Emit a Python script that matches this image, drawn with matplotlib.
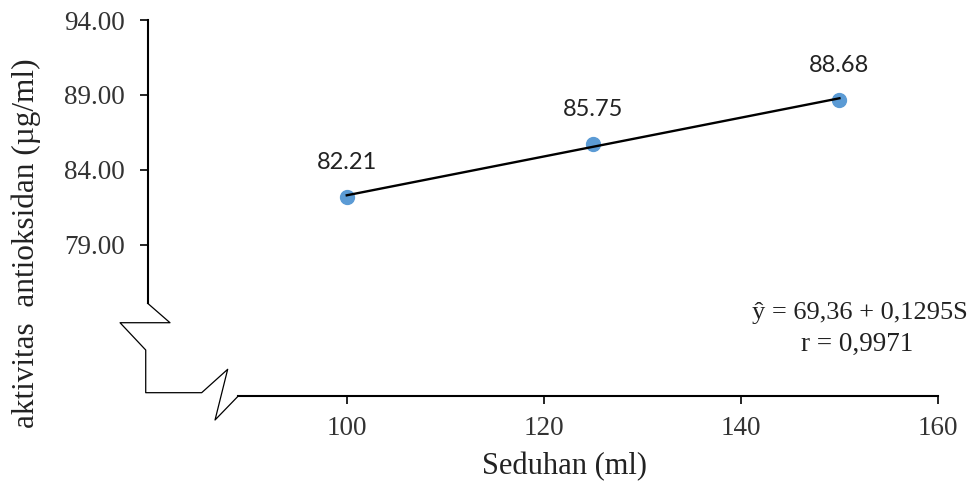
import matplotlib
matplotlib.use("Agg")
from matplotlib import pyplot as plt
from matplotlib.ticker import FormatStrFormatter
import numpy as np

# volume of steeping water (ml) vs antioxidant activity
seduhan = [100, 125, 150]
aktivitas = [82.21, 85.75, 88.68]
y_ticks = [79, 84, 89, 94]
x_ticks = [100, 120, 140, 160]
persamaan = "ŷ = 69,36 + 0,1295S"
korelasi = "r = 0,9971"

serif = ["Liberation Serif", "DejaVu Serif"]
sans = ["Lato", "DejaVu Sans"]

fig = plt.figure(figsize=(9.73, 4.88), dpi=100)
ax = fig.add_axes([147.7 / 973, 1 - 396 / 488, (938 - 147.7) / 973, (396 - 20) / 488])
ax.set_xlim(79.8, 160)
ax.set_ylim(68.93, 94)

# regression line over the measured range
slope, intercept = np.polyfit(seduhan, aktivitas, 1)
xs = np.array([min(seduhan), max(seduhan)])
ax.plot(seduhan, aktivitas, "o", color="#5B9BD5", markersize=10, zorder=2)
ax.plot(xs, intercept + slope * xs, color="black", lw=1.7, zorder=3)

for x, y in zip(seduhan, aktivitas):
    ax.annotate(f"{y:.2f}", (x, y), xytext=(0, 25), textcoords="offset points",
                ha="center", va="center", fontsize=17, family=sans, color="#222222")

# axes styling: only left and bottom spines, both shortened for the break marks
for side in ("top", "right"):
    ax.spines[side].set_visible(False)
ax.spines["left"].set_linewidth(1.5)
ax.spines["bottom"].set_linewidth(1.5)
ax.spines["left"].set_bounds(75.11, 94)
ax.spines["bottom"].set_bounds(88.99, 160)

ax.set_yticks(y_ticks)
ax.set_xticks(x_ticks)
ax.yaxis.set_major_formatter(FormatStrFormatter("%.2f"))
ax.tick_params(direction="out", length=5.5, width=1.2, labelsize=19.5, color="black")
ax.tick_params(axis="y", pad=11)
ax.tick_params(axis="x", pad=9)
for lbl in ax.get_xticklabels() + ax.get_yticklabels():
    lbl.set_family(serif)
    lbl.set_color("#333333")

# axis-break zigzag joining the two shortened spines
zig_x = [0, 0.0282, -0.0350, -0.0025, -0.0025, 0.0683, 0.1012, 0.0852, 0.1146]
zig_y = [0.2465, 0.1949, 0.1949, 0.1223, 0.0088, 0.0088, 0.0710, -0.0638, 0]
ax.plot(zig_x, zig_y, color="black", lw=0.9, transform=ax.transAxes, clip_on=False)

fig.text(26 / 973, 1 - 243 / 488, "aktivitas  antioksidan (µg/ml)", rotation=90,
         ha="center", va="center", fontsize=22.5, family=serif, color="#222222")
fig.text(564 / 973, 1 - 467 / 488, "Seduhan (ml)", ha="center", va="center",
         fontsize=22, family=serif, color="#222222")

fig.text(968 / 973, 1 - 313 / 488, persamaan, ha="right", va="center",
         fontsize=19, family=serif, color="#222222")
fig.text(857 / 973, 1 - 344 / 488, korelasi, ha="center", va="center",
         fontsize=19.5, family=serif, color="#222222")

fig.savefig("out.png", dpi=100)
